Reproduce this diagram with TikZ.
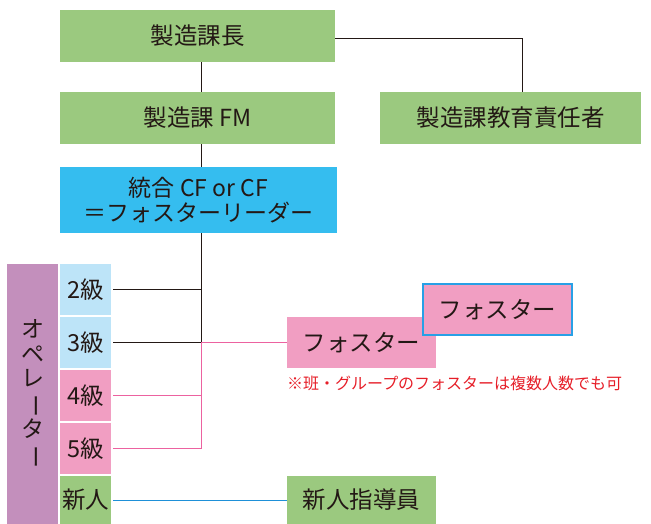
\documentclass[tikz,border=0pt]{standalone}
\usepackage{fontspec}
\setmainfont{Noto Sans CJK JP}
\usetikzlibrary{positioning}
\definecolor{boxgreen}{RGB}{155,201,127}
\definecolor{boxcyan}{RGB}{53,189,239}
\definecolor{boxsky}{RGB}{189,228,248}
\definecolor{boxpink}{RGB}{241,158,194}
\definecolor{boxplum}{RGB}{195,143,188}
\definecolor{linepink}{RGB}{236,98,160}
\definecolor{lineblue}{RGB}{30,144,216}
\definecolor{noteblue}{RGB}{40,160,230}
\definecolor{notered}{RGB}{230,30,40}
\definecolor{ink}{RGB}{35,24,21}
\newcommand{\vlong}{\rotatebox[origin=c]{-90}{ー}}

\begin{document}
\begin{tikzpicture}[x=1pt,y=-1pt,font=\fontsize{23.5}{25}\selectfont,text=ink]
    \tikzset{box/.style={rectangle,inner sep=0pt,minimum height=52pt,align=center},
             green/.style={box,fill=boxgreen},
             grade/.style={box,minimum width=51pt,minimum height=51pt}}
    \useasboundingbox (0,0) rectangle (651,524);

    \node[green,minimum width=275pt] (chief) at (197.5,36) {製造課長};
    \node[green,minimum width=275pt] (fm) at (197.5,118) {製造課 FM};
    \node[green,minimum width=261pt] (edu) at (510.5,118) {製造課教育責任者};
    \node[box,fill=boxcyan,minimum width=277pt,minimum height=66pt,
          font=\fontsize{23}{25}\selectfont] (cf) at (198.5,200) {統合 CF or CF\\＝フォスターリーダー};

    \node[box,fill=boxplum,minimum width=51pt,minimum height=260pt,
          font=\fontsize{23}{24.5}\selectfont] (op) at (32.5,394) {オ\\ペ\\レ\\\vlong\\タ\\\vlong};
    \node[grade,fill=boxsky] (g2) at (85.5,289.5) {2級};
    \node[grade,fill=boxsky] (g3) at (85.5,342.5) {3級};
    \node[grade,fill=boxpink] (g4) at (85.5,395.5) {4級};
    \node[grade,fill=boxpink] (g5) at (85.5,448.5) {5級};
    \node[grade,fill=boxgreen,minimum height=48pt] (new) at (85.5,500) {新人};

    \node[box,fill=boxpink,minimum width=149pt,minimum height=51pt] (fos) at (361.5,342.5) {フォスター};
    \node[box,fill=boxpink,draw=noteblue,line width=1.6pt,minimum width=149pt,
          minimum height=51pt] (fos2) at (497.5,309.5) {フォスター};
    \node[anchor=west,inner sep=0pt,text=notered,font=\fontsize{16}{18}\selectfont]
          (note) at (287,383) {※班・グループのフォスターは複数人数でも可};
    \node[green,minimum width=149pt,minimum height=49pt] (mentor) at (361.5,500) {新人指導員};

    \coordinate (hub) at (201,342.5);
    \coordinate (corner) at (522,38.5);

    % upper line
    \draw[ink] (chief.south -| hub) -- (fm.north -| hub);
    \draw[ink] (fm.south -| hub) -- (cf.north -| hub);
    \draw[ink] (chief.east |- corner) -- (corner) -- (corner |- edu.north);
    \draw[ink] (cf.south -| hub) -- (hub);
    \draw[ink] ([xshift=2pt]g2.east) -- (g2.east -| hub);
    \draw[ink] ([xshift=2pt]g3.east) -- (hub);

    % pink line
    \draw[linepink] (hub) -- (fos.west);
    \draw[linepink] (hub) -- (hub |- g5.east) -- ([xshift=2pt]g5.east);
    \draw[linepink] ([xshift=2pt]g4.east) -- (g4.east -| hub);

    % blue line
    \draw[lineblue] ([xshift=2pt]new.east) -- (mentor.west);
\end{tikzpicture}
\end{document}
